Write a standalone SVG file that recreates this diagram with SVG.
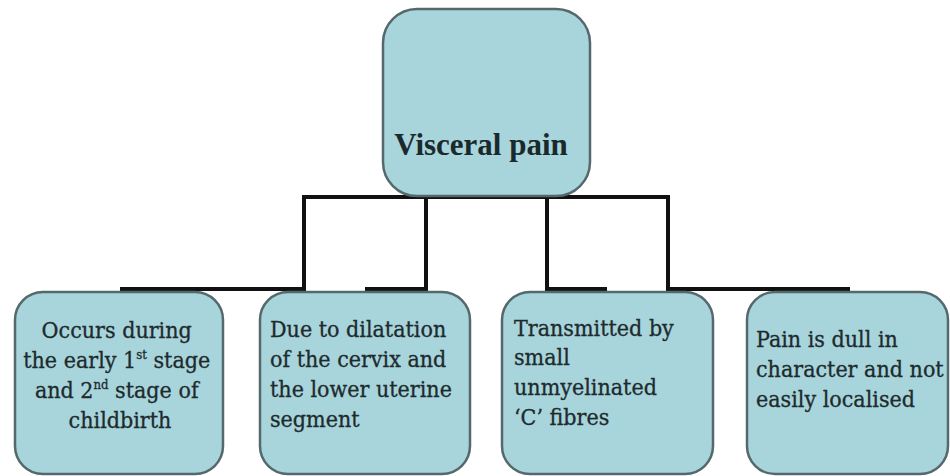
<svg xmlns="http://www.w3.org/2000/svg" width="950" height="476" viewBox="0 0 950 476">
<style>
.box{fill:#a8d5dc;stroke:#55696d;stroke-width:2.5}
.conn{fill:none;stroke:#111;stroke-width:4;stroke-linejoin:miter}
.t{font-family:"DejaVu Serif Condensed","DejaVu Serif",serif;font-size:23px;fill:#1e2b2d;stroke:#1e2b2d;stroke-width:0.3}
.title{font-family:"Liberation Serif","Times New Roman",serif;font-size:31px;font-weight:bold;fill:#1a2a2c}
.sup{font-size:13px}
</style>
<rect width="950" height="476" fill="#ffffff"/>
<g id="connectors">
<path class="conn" d="M486,197 H304 V289 H120"/>
<path class="conn" d="M486,197 H426 V289 H365"/>
<path class="conn" d="M486,197 H547 V289 H607"/>
<path class="conn" d="M486,197 H668 V289 H850"/>
</g>
<g id="visceral-pain">
<rect class="box" x="383" y="9" width="207" height="187" rx="34"/>
<text class="title" x="481" y="155" text-anchor="middle">Visceral pain</text>
</g>
<g id="occurs-during">
<rect class="box" x="15" y="292" width="208" height="182" rx="28"/>
<text class="t" text-anchor="middle">
<tspan x="120" y="338">Occurs during</tspan>
<tspan x="120" y="368">the early 1<tspan class="sup" dy="-9">st</tspan><tspan dy="9"> stage</tspan></tspan>
<tspan x="120" y="398">and 2<tspan class="sup" dy="-9">nd</tspan><tspan dy="9"> stage of</tspan></tspan>
<tspan x="120" y="428">childbirth</tspan>
</text>
</g>
<g id="due-to-dilatation">
<rect class="box" x="260" y="292" width="210" height="182" rx="28"/>
<text class="t">
<tspan x="270" y="337">Due to dilatation</tspan>
<tspan x="270" y="367">of the cervix and</tspan>
<tspan x="270" y="397">the lower uterine</tspan>
<tspan x="270" y="427">segment</tspan>
</text>
</g>
<g id="transmitted-by">
<rect class="box" x="502" y="292" width="211" height="182" rx="28"/>
<text class="t">
<tspan x="514" y="336">Transmitted by</tspan>
<tspan x="514" y="365">small</tspan>
<tspan x="514" y="395">unmyelinated</tspan>
<tspan x="514" y="425">‘C’ fibres</tspan>
</text>
</g>
<g id="pain-is-dull">
<rect class="box" x="747" y="292" width="201" height="182" rx="28"/>
<text class="t">
<tspan x="756" y="347">Pain is dull in</tspan>
<tspan x="756" y="377">character and not</tspan>
<tspan x="756" y="407">easily localised</tspan>
</text>
</g>
</svg>
